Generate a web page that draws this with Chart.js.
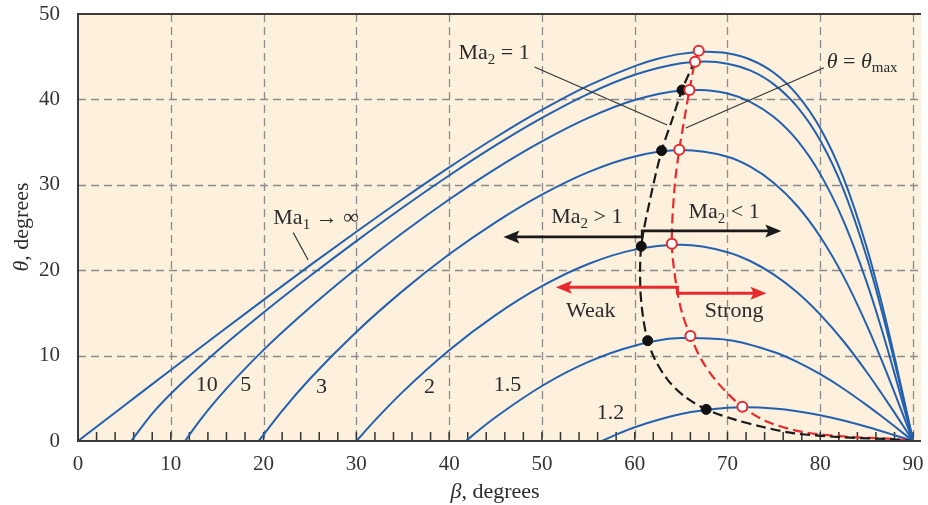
<!DOCTYPE html>
<html>
<head>
<meta charset="utf-8">
<style>
  html, body { margin: 0; padding: 0; background: #fff; }
  #wrap { width: 928px; height: 505px; }
</style>
<script src="https://cdn.jsdelivr.net/npm/chart.js@4.4.1/dist/chart.umd.min.js"></script>
</head>
<body>
<div id="wrap"><canvas id="shockChart" width="928" height="505"></canvas></div>
<script>
// === theta-beta-Ma chart, values (degrees) ===

const xTicks = [0, 10, 20, 30, 40, 50, 60, 70, 80, 90];
const yTicks = [0, 10, 20, 30, 40, 50];

const machLabels = ['∞', '10', '5', '3', '2', '1.5', '1.2'];

const betaInf  = [0, 5, 10, 15, 20, 25, 30, 35, 40, 45, 50, 55, 60, 62.5, 65, 67.8, 70, 72.5, 75, 77.5, 80, 82.5, 85, 86.5, 88, 89, 90];
const thetaInf = [0, 4.16, 8.32, 12.44, 16.53, 20.56, 24.5, 28.34, 32.04, 35.54, 38.76, 41.61, 43.9, 44.75, 45.33, 45.58, 45.4, 44.64, 43.12, 40.56, 36.61, 30.8, 22.69, 16.65, 9.84, 4.98, 0];

const beta10  = [5.74, 8, 10, 15, 20, 25, 30, 35, 40, 45, 50, 55, 60, 65, 67.6, 70, 72.5, 75, 77.5, 80, 82.5, 85, 86.5, 88, 89, 90];
const theta10 = [0, 3.2, 5.53, 10.54, 15.05, 19.32, 23.41, 27.34, 31.09, 34.61, 37.83, 40.65, 42.88, 44.23, 44.43, 44.18, 43.36, 41.76, 39.15, 35.18, 29.43, 21.55, 15.76, 9.29, 4.7, 0];

const beta5  = [11.54, 13, 15, 20, 25, 30, 35, 40, 45, 50, 55, 60, 65, 67, 70, 72.5, 75, 77.5, 80, 82.5, 85, 86.5, 88, 89, 90];
const theta5 = [0, 2.21, 4.91, 10.67, 15.64, 20.18, 24.38, 28.28, 31.87, 35.08, 37.83, 39.92, 41.04, 41.1, 40.68, 39.69, 37.93, 35.22, 31.25, 25.78, 18.6, 13.49, 7.9, 3.99, 0];

const beta3  = [19.47, 22, 25, 30, 35, 40, 45, 50, 55, 60, 65, 70, 72.5, 75, 77.5, 80, 82.5, 85, 86.5, 88, 89, 90];
const theta3 = [0, 3.54, 7.29, 12.77, 17.58, 21.86, 25.61, 28.85, 31.49, 33.32, 34.07, 33.28, 32.09, 30.21, 27.55, 23.92, 19.28, 13.6, 9.75, 5.67, 2.85, 0];

const beta2  = [30, 32, 35, 40, 45, 50, 55, 60, 65, 70, 72.5, 75, 77.5, 80, 82.5, 85, 86.5, 88, 89, 90];
const theta2 = [0, 2.41, 5.75, 10.63, 14.74, 18.13, 20.73, 22.41, 22.97, 22.11, 21.05, 19.49, 17.42, 14.8, 11.68, 8.08, 5.74, 3.32, 1.66, 0];

const beta15  = [41.81, 43.5, 45, 50, 55, 60, 65, 70, 75, 77.5, 80, 82.5, 85, 86.5, 88, 90];
const theta15 = [0, 1.52, 2.78, 6.44, 9.26, 11.16, 12.05, 11.84, 10.42, 9.27, 7.82, 6.12, 4.2, 2.98, 1.72, 0];

const beta12  = [56.44, 58, 60, 65, 70, 72, 75, 77.5, 80, 82.5, 85, 88, 90];
const theta12 = [0, 0.75, 1.61, 3.16, 3.88, 3.94, 3.8, 3.49, 3.01, 2.39, 1.66, 0.68, 0];

// Ma2 = 1 line (black dashed) and its dots
const betaSonic  = [66.5, 65.1, 64.0, 62.9, 61.7, 60.7, 60.6, 60.9, 61.4, 62.2, 63.6, 65.4, 67.7, 70.8, 73.6, 77.2, 82.5, 87.9, 90];
const thetaSonic = [44.6, 41.1, 37.5, 34.0, 28.5, 22.8, 18.0, 14.5, 11.75, 9.5, 7.1, 5.2, 3.7, 2.5, 1.7, 0.9, 0.43, 0.2, 0];
const betaSonicDots  = [65.1, 62.9, 60.7, 61.4, 67.7];
const thetaSonicDots = [41.1, 34.0, 22.8, 11.75, 3.7];

// theta = theta_max line (red dashed) and its circles
const betaMax  = [66.9, 66.5, 65.9, 65.4, 64.8, 64.3, 64.0, 64.5, 65.1, 66.0, 67.2, 69.0, 71.6, 74.3, 77.9, 82.9, 87.9, 90];
const thetaMax = [45.7, 44.4, 41.1, 38.0, 34.1, 29.8, 23.1, 18.1, 15.0, 12.3, 9.5, 6.75, 4.0, 2.26, 1.1, 0.5, 0.23, 0];
const betaMaxDots  = [66.9, 66.5, 65.9, 64.8, 64.0, 66.0, 71.6];
const thetaMaxDots = [45.7, 44.4, 41.1, 34.1, 23.1, 12.3, 4.0];

// === styling ===
const serif = '"Liberation Serif", "DejaVu Serif", serif';
const blue = '#2361b0';
const red = '#e62a2e';
const ink = '#2b2b2b';
const cream = '#fdf0dc';

function pts(bs, ts) {
  return bs.map((b, i) => ({ x: b, y: ts[i] }));
}

const curves = [
  [betaInf, thetaInf], [beta10, theta10], [beta5, theta5], [beta3, theta3],
  [beta2, theta2], [beta15, theta15], [beta12, theta12]
];

const datasets = curves.map((c, i) => ({
  label: 'Ma1 = ' + machLabels[i],
  data: pts(c[0], c[1]),
  showLine: true,
  borderColor: blue,
  borderWidth: 2,
  pointRadius: 0,
  cubicInterpolationMode: 'monotone',
  order: 3
}));

datasets.push({
  label: 'Ma2 = 1',
  data: pts(betaSonic, thetaSonic),
  showLine: true, borderColor: '#1a1a1a', borderWidth: 2.2, borderDash: [10, 5],
  pointRadius: 0, tension: 0.3, order: 2
});
datasets.push({
  label: 'theta max',
  data: pts(betaMax, thetaMax),
  showLine: true, borderColor: red, borderWidth: 2.2, borderDash: [10, 5],
  pointRadius: 0, tension: 0.3, order: 2
});
datasets.push({
  label: 'sonic dots',
  data: pts(betaSonicDots, thetaSonicDots),
  showLine: false, pointRadius: 5, pointBackgroundColor: '#111', pointBorderColor: '#111',
  pointBorderWidth: 1, order: 1
});
datasets.push({
  label: 'max dots',
  data: pts(betaMaxDots, thetaMaxDots),
  showLine: false, pointRadius: 5, pointBackgroundColor: '#fff', pointBorderColor: red,
  pointBorderWidth: 2, order: 0
});

// === helpers for drawing text and arrows ===
function drawRich(ctx, parts, x, y, size) {
  ctx.textBaseline = 'middle';
  ctx.textAlign = 'left';
  parts.forEach(p => {
    const s = p.sub ? Math.round(size * 0.66) : size;
    ctx.font = (p.it ? 'italic ' : '') + s + 'px ' + serif;
    ctx.fillText(p.t, x, y + (p.sub ? size * 0.3 : 0));
    x += ctx.measureText(p.t).width;
  });
  return x;
}

function richWidth(ctx, parts, size) {
  let w = 0;
  parts.forEach(p => {
    const s = p.sub ? Math.round(size * 0.66) : size;
    ctx.font = (p.it ? 'italic ' : '') + s + 'px ' + serif;
    w += ctx.measureText(p.t).width;
  });
  return w;
}

function arrowHead(ctx, x, y, dir, len, half) {
  ctx.beginPath();
  ctx.moveTo(x, y);
  ctx.lineTo(x - dir * len, y - half);
  ctx.lineTo(x - dir * len * 0.8, y);
  ctx.lineTo(x - dir * len, y + half);
  ctx.closePath();
  ctx.fill();
}

const backdrop = {
  id: 'backdrop',
  beforeDatasetsDraw(chart) {
    const { ctx, chartArea: a, scales: { x, y } } = chart;
    ctx.save();
    ctx.fillStyle = cream;
    ctx.fillRect(a.left, a.top, a.right - a.left, a.bottom - a.top);

    // dashed grid
    ctx.strokeStyle = '#8c8c8c';
    ctx.lineWidth = 1.3;
    ctx.setLineDash([8, 5]);
    xTicks.forEach(v => {
      if (v === 0) return;
      const px = Math.round(x.getPixelForValue(v)) + 0.5;
      ctx.beginPath(); ctx.moveTo(px, a.top); ctx.lineTo(px, a.bottom); ctx.stroke();
    });
    yTicks.forEach(v => {
      if (v === 0 || v === 50) return;
      const py = Math.round(y.getPixelForValue(v)) + 0.5;
      ctx.beginPath(); ctx.moveTo(a.left, py); ctx.lineTo(a.right, py); ctx.stroke();
    });
    ctx.setLineDash([]);

    // minor ticks on the beta axis
    ctx.strokeStyle = '#333';
    ctx.lineWidth = 1.5;
    for (let v = 2; v <= 90; v += 2) {
      const px = x.getPixelForValue(v);
      ctx.beginPath(); ctx.moveTo(px, a.bottom); ctx.lineTo(px, a.bottom - 9); ctx.stroke();
    }
    ctx.restore();
  },
  afterDatasetsDraw(chart) {
    const { ctx, chartArea: a, scales: { x, y } } = chart;
    const X = v => x.getPixelForValue(v);
    const Y = v => y.getPixelForValue(v);
    ctx.save();

    // frame
    ctx.strokeStyle = '#3a3a3a';
    ctx.lineWidth = 2;
    ctx.beginPath();
    ctx.moveTo(a.right, a.top); ctx.lineTo(a.left, a.top);
    ctx.lineTo(a.left, a.bottom); ctx.lineTo(a.right, a.bottom);
    ctx.stroke();

    // leader lines
    ctx.strokeStyle = '#333';
    ctx.lineWidth = 1.1;
    [[49.2, 43.8, 63.5, 37.0], [80.4, 43.7, 65.5, 36.65], [23.2, 24.4, 24.8, 21.2]].forEach(l => {
      ctx.beginPath(); ctx.moveTo(X(l[0]), Y(l[1])); ctx.lineTo(X(l[2]), Y(l[3])); ctx.stroke();
    });

    // black arrows (Ma2 > 1 / Ma2 < 1)
    ctx.strokeStyle = '#1a1a1a';
    ctx.fillStyle = '#1a1a1a';
    ctx.lineWidth = 2.6;
    ctx.beginPath();
    ctx.moveTo(X(45.85) + 10, Y(23.9));
    ctx.lineTo(X(60.8), Y(23.9));
    ctx.lineTo(X(60.8), Y(24.6));
    ctx.lineTo(X(75.8) - 10, Y(24.6));
    ctx.stroke();
    arrowHead(ctx, X(45.85), Y(23.9), -1, 16, 6.5);
    arrowHead(ctx, X(75.8), Y(24.6), 1, 16, 6.5);

    // red arrows (Weak / Strong)
    ctx.strokeStyle = red;
    ctx.fillStyle = red;
    ctx.lineWidth = 3;
    ctx.beginPath();
    ctx.moveTo(X(51.5) + 10, Y(18.0));
    ctx.lineTo(X(64.6), Y(18.0));
    ctx.lineTo(X(64.6), Y(17.3));
    ctx.lineTo(X(74.2) - 10, Y(17.3));
    ctx.stroke();
    arrowHead(ctx, X(51.5), Y(18.0), -1, 16, 6.5);
    arrowHead(ctx, X(74.2), Y(17.3), 1, 16, 6.5);

    // labels
    ctx.fillStyle = ink;
    const fs = 22;
    drawRich(ctx, [{ t: 'Ma' }, { t: '2', sub: true }, { t: ' > 1' }], X(51.0), Y(26.2), fs);
    drawRich(ctx, [{ t: 'Ma' }, { t: '2', sub: true }, { t: ' < 1' }], X(65.8), Y(26.8), fs);
    drawRich(ctx, [{ t: 'Weak' }], X(52.6), Y(15.2), fs);
    drawRich(ctx, [{ t: 'Strong' }], X(67.55), Y(15.2), fs);
    drawRich(ctx, [{ t: 'Ma' }, { t: '1', sub: true }, { t: ' → ∞' }], X(21.05), Y(26.1), fs);
    drawRich(ctx, [{ t: 'Ma' }, { t: '2', sub: true }, { t: ' = 1' }], X(41.0), Y(45.4), fs);
    drawRich(ctx, [{ t: 'θ', it: true }, { t: ' = ' }, { t: 'θ', it: true }, { t: 'max', sub: true }], X(80.7), Y(44.4), fs);

    // curve numbers
    const nums = [['10', 12.7, 6.55], ['5', 17.5, 6.55], ['3', 25.65, 6.35], ['2', 37.3, 6.35], ['1.5', 44.8, 6.55], ['1.2', 55.9, 3.3]];
    nums.forEach(n => drawRich(ctx, [{ t: n[0] }], X(n[1]), Y(n[2]), fs));

    // axis titles
    const xt = [{ t: 'β', it: true }, { t: ', degrees' }];
    drawRich(ctx, xt, 495 - richWidth(ctx, xt, fs) / 2, 492, fs);
    const yt = [{ t: 'θ', it: true }, { t: ', degrees' }];
    ctx.translate(22, 227);
    ctx.rotate(-Math.PI / 2);
    drawRich(ctx, yt, -richWidth(ctx, yt, fs) / 2, 0, fs);
    ctx.restore();
  }
};

// === chart ===
const canvas = document.getElementById('shockChart');
new Chart(canvas, {
  type: 'scatter',
  data: { datasets: datasets },
  options: {
    responsive: false,
    devicePixelRatio: 1,
    animation: false,
    layout: { padding: { top: 14, right: 0, bottom: 0, left: 0 } },
    plugins: { legend: { display: false }, tooltip: { enabled: false } },
    scales: {
      x: {
        type: 'linear', min: 0, max: 90.855,
        grid: { display: false }, border: { display: false },
        ticks: { font: { family: serif, size: 21 }, color: '#333', padding: 3, maxRotation: 0 },
        afterBuildTicks: s => { s.ticks = xTicks.map(v => ({ value: v })); },
        afterFit: s => { s.height = 64; s.paddingLeft = 0; s.paddingRight = 0; }
      },
      y: {
        type: 'linear', min: 0, max: 50,
        grid: { display: false }, border: { display: false },
        ticks: { font: { family: serif, size: 21 }, color: '#333', padding: 10 },
        afterBuildTicks: s => { s.ticks = yTicks.map(v => ({ value: v })); },
        afterFit: s => { s.width = 78; s.paddingTop = 0; s.paddingBottom = 0; }
      }
    }
  },
  plugins: [backdrop]
});
</script>
</body>
</html>
